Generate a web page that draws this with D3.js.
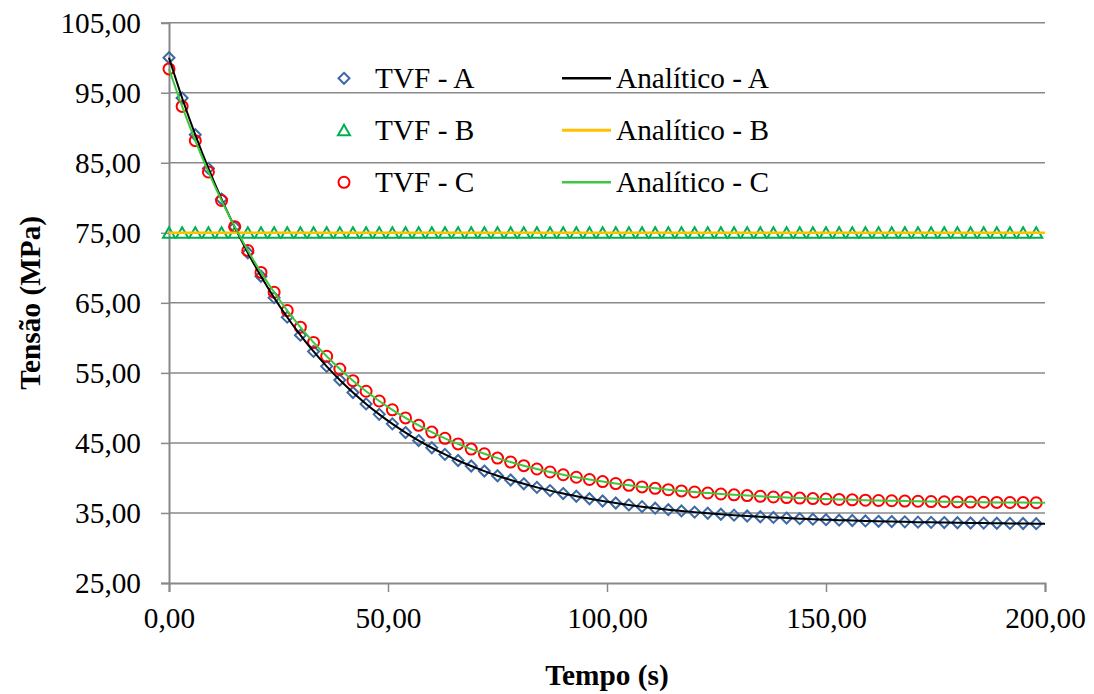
<!DOCTYPE html>
<html>
<head>
<meta charset="utf-8">
<script src="https://cdn.jsdelivr.net/npm/d3@7"></script>
<style>
  html, body { margin: 0; padding: 0; background: #ffffff; }
  svg { display: block; }
  text { font-family: 'Times New Roman', 'Liberation Serif', 'DejaVu Serif', serif; fill: #000; }
</style>
</head>
<body>
<svg id="chart" width="1094" height="694"></svg>
<script>
// ---- data ----
const tempo = [0,3,6,9,12,15,18,21,24,27,30,33,36,39,42,45,48,51,54,57,60,63,66,69,72,75,78,81,84,87,90,93,96,99,102,105,108,111,114,117,120,123,126,129,132,135,138,141,144,147,150,153,156,159,162,165,168,171,174,177,180,183,186,189,192,195,198];
const tvfA = [100.00,94.25,89.00,84.20,79.82,75.81,72.15,68.80,65.74,62.95,60.39,58.06,55.93,53.98,52.20,50.57,49.08,47.72,46.48,45.34,44.31,43.36,42.49,41.70,40.98,40.31,39.71,39.16,38.65,38.19,37.77,37.39,37.03,36.71,36.42,36.15,35.90,35.68,35.47,35.29,35.12,34.96,34.82,34.69,34.57,34.46,34.36,34.27,34.18,34.11,34.04,33.97,33.92,33.86,33.81,33.77,33.73,33.69,33.66,33.63,33.60,33.57,33.55,33.53,33.51,33.49,33.47];
const tvfB = [75,75,75,75,75,75,75,75,75,75,75,75,75,75,75,75,75,75,75,75,75,75,75,75,75,75,75,75,75,75,75,75,75,75,75,75,75,75,75,75,75,75,75,75,75,75,75,75,75,75,75,75,75,75,75,75,75,75,75,75,75,75,75,75,75,75,75];
const tvfC = [98.40,93.05,88.16,83.69,79.61,75.88,72.47,69.35,66.51,63.90,61.53,59.35,57.37,55.55,53.89,52.38,50.99,49.73,48.57,47.51,46.55,45.66,44.86,44.12,43.45,42.83,42.27,41.75,41.28,40.85,40.46,40.10,39.78,39.48,39.20,38.95,38.72,38.52,38.32,38.15,37.99,37.85,37.71,37.59,37.48,37.38,37.28,37.20,37.12,37.05,36.99,36.93,36.87,36.82,36.78,36.74,36.70,36.67,36.63,36.60,36.58,36.55,36.53,36.51,36.49,36.48,36.46];
const tempoAnalitico = [...tempo, 200];
const analiticoA = [...tvfA, 33.46];
const analiticoB = [...tvfB, 75];
const analiticoC = [...tvfC, 36.45];
const yTicks = [25,35,45,55,65,75,85,95,105];
const xTicks = [0,50,100,150,200];
const legendMarkers = ["TVF - A", "TVF - B", "TVF - C"];
const legendLines = ["Analítico - A", "Analítico - B", "Analítico - C"];

// ---- layout ----
const FONT = "'Times New Roman', 'Liberation Serif', 'DejaVu Serif', serif";
const FS = 29.3;
const svg = d3.select("#chart");
const pLeft = 169, pRight = 1045, pTop = 22.7, pBottom = 583;
const x = d3.scaleLinear().domain([0, 200]).range([pLeft, pRight]);
const y = d3.scaleLinear().domain([25, 105]).range([pBottom, pTop]);
const fmt = v => d3.format(".2f")(v).replace(".", ",");
const gridColor = "#888888";

// gridlines
svg.append("g").selectAll("line").data(yTicks.slice(1)).join("line")
  .attr("x1", pLeft).attr("x2", pRight)
  .attr("y1", d => y(d)).attr("y2", d => y(d))
  .attr("stroke", gridColor).attr("stroke-width", 1.5);

// y axis
const yAxis = svg.append("g").attr("transform", `translate(${pLeft},0)`)
  .call(d3.axisLeft(y).tickValues(yTicks).tickFormat(fmt).tickSize(8).tickPadding(20));
yAxis.select(".domain").attr("stroke", gridColor).attr("stroke-width", 2);
yAxis.selectAll(".tick line").attr("stroke", gridColor).attr("stroke-width", 1.5);
yAxis.selectAll(".tick text").attr("font-size", FS).attr("font-family", FONT).attr("fill", "#000").attr("dy", "0.34em");

// x axis
const xAxis = svg.append("g").attr("transform", `translate(0,${pBottom})`)
  .call(d3.axisBottom(x).tickValues(xTicks).tickFormat(fmt).tickSize(9).tickPadding(15));
xAxis.select(".domain").attr("stroke", gridColor).attr("stroke-width", 2);
xAxis.selectAll(".tick line").attr("stroke", gridColor).attr("stroke-width", 1.5);
xAxis.selectAll(".tick text").attr("font-size", FS).attr("font-family", FONT).attr("fill", "#000");

// axis titles
svg.append("text").attr("x", (pLeft + pRight) / 2).attr("y", 685).attr("font-family", FONT)
  .attr("text-anchor", "middle").attr("font-size", FS).attr("font-weight", "bold").text("Tempo (s)");
svg.append("text").attr("transform", `translate(40,${(pTop + pBottom) / 2}) rotate(-90)`).attr("font-family", FONT)
  .attr("text-anchor", "middle").attr("font-size", FS).attr("font-weight", "bold").text("Tensão (MPa)");

// marker shapes
const diamond = "M0,-5.5L5.5,0L0,5.5L-5.5,0Z";
const triangle = "M0,-5.5L6,5L-6,5Z";
const colA = "#3C6AA5", colB = "#00B050", colC = "#FF0000";
const lineA = "#000000", lineB = "#FFC000", lineC = "#3DC83D";

const ptsA = tempo.map((t, i) => [t, tvfA[i]]);
const ptsB = tempo.map((t, i) => [t, tvfB[i]]);
const ptsC = tempo.map((t, i) => [t, tvfC[i]]);

const gm = svg.append("g");
gm.selectAll(".dA").data(ptsA).join("path")
  .attr("d", diamond).attr("transform", d => `translate(${x(d[0])},${y(d[1])})`)
  .attr("fill", "none").attr("stroke", colA).attr("stroke-width", 2);
gm.selectAll(".tB").data(ptsB).join("path")
  .attr("d", triangle).attr("transform", d => `translate(${x(d[0])},${y(d[1])})`)
  .attr("fill", "none").attr("stroke", colB).attr("stroke-width", 2);
gm.selectAll(".cC").data(ptsC).join("circle")
  .attr("cx", d => x(d[0])).attr("cy", d => y(d[1])).attr("r", 5.5)
  .attr("fill", "none").attr("stroke", colC).attr("stroke-width", 2);

// analytic lines
const line = d3.line().x(d => x(d[0])).y(d => y(d[1])).curve(d3.curveMonotoneX);
const lines = [
  [analiticoA, lineA, 2],
  [analiticoB, lineB, 2.5],
  [analiticoC, lineC, 2]
];
lines.forEach(([vals, col, w]) => {
  svg.append("path").datum(tempoAnalitico.map((t, i) => [t, vals[i]]))
    .attr("d", line).attr("fill", "none").attr("stroke", col).attr("stroke-width", w);
});

// legend
const rowsY = [78.3, 130.3, 182.3];
const lg = svg.append("g");
legendMarkers.forEach((name, i) => {
  const cy = rowsY[i];
  if (i === 0) lg.append("path").attr("d", diamond).attr("transform", `translate(344,${cy})`)
    .attr("fill", "none").attr("stroke", colA).attr("stroke-width", 2);
  if (i === 1) lg.append("path").attr("d", triangle).attr("transform", `translate(344,${cy})`)
    .attr("fill", "none").attr("stroke", colB).attr("stroke-width", 2);
  if (i === 2) lg.append("circle").attr("cx", 344).attr("cy", cy).attr("r", 5.5)
    .attr("fill", "none").attr("stroke", colC).attr("stroke-width", 2);
  lg.append("text").attr("x", 375).attr("y", cy + 10).attr("font-size", FS).attr("font-family", FONT).text(name);
});
legendLines.forEach((name, i) => {
  const cy = rowsY[i];
  lg.append("line").attr("x1", 562).attr("x2", 611).attr("y1", cy).attr("y2", cy)
    .attr("stroke", lines[i][1]).attr("stroke-width", lines[i][2] + 0.5);
  lg.append("text").attr("x", 616).attr("y", cy + 10).attr("font-size", FS).attr("font-family", FONT).text(name);
});
</script>
</body>
</html>
